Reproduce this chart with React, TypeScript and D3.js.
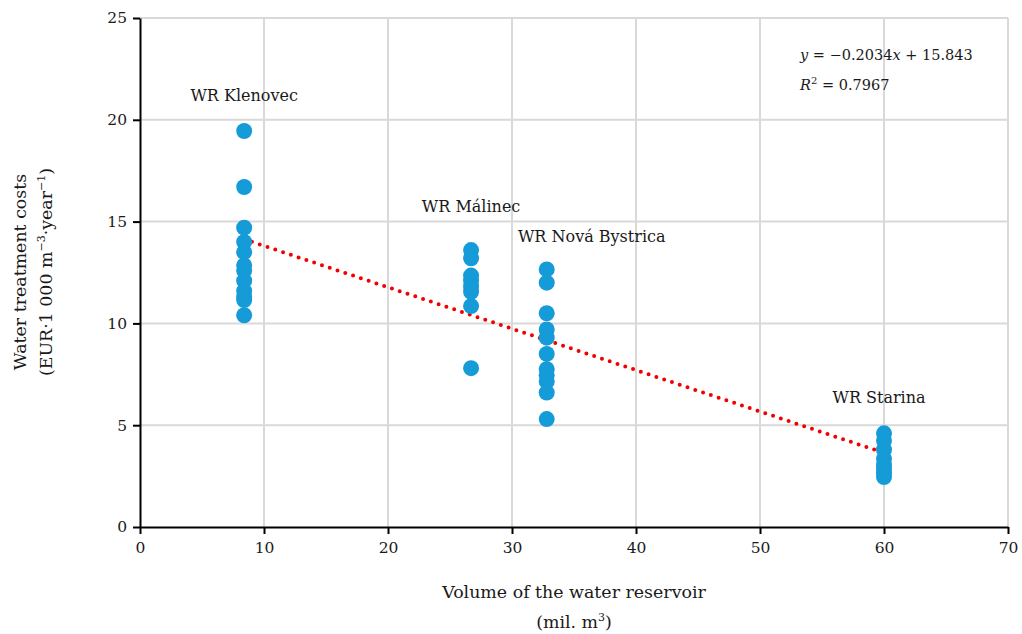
import React, { useRef, useEffect } from 'react';
import * as d3 from 'd3';

const xTicks = [0, 10, 20, 30, 40, 50, 60, 70];
const yTicks = [0, 5, 10, 15, 20, 25];

const klenovec = [19.45, 16.7, 14.7, 14.0, 13.5, 12.85, 12.6, 12.1, 11.6, 11.3, 11.15, 10.4];
const malinec = [13.6, 13.2, 12.35, 12.1, 11.8, 11.55, 10.85, 7.8];
const novaBystrica = [12.65, 12.0, 10.5, 9.7, 9.3, 8.5, 7.75, 7.45, 7.15, 6.6, 5.3];
const starina = [4.6, 4.25, 3.8, 3.35, 3.05, 2.85, 2.65, 2.45];

const reservoirs = [
  { name: 'WR Klenovec', volume: 8.4, values: klenovec, labelDx: 0, labelY: 20.9 },
  { name: 'WR Málinec', volume: 26.7, values: malinec, labelDx: 0, labelY: 15.45 },
  { name: 'WR Nová Bystrica', volume: 32.8, values: novaBystrica, labelDx: 45, labelY: 14.0 },
  { name: 'WR Starina', volume: 60, values: starina, labelDx: -5, labelY: 6.1 },
];

const slope = -0.2034;
const intercept = 15.843;
const trendRange = [8.4, 60];

const FONT = '"DejaVu Serif", serif';
const INK = '#1a1a1a';

const Chart = () => {
  const svgRef = useRef<SVGSVGElement>(null);

  useEffect(() => {
    const svg = d3.select(svgRef.current);
    svg.selectAll('*').remove();

    const x = d3.scaleLinear().domain([0, 70]).range([140, 1008]);
    const y = d3.scaleLinear().domain([0, 25]).range([527, 18]);

    // grid
    svg.append('g')
      .selectAll('line')
      .data(xTicks.slice(1))
      .enter().append('line')
      .attr('x1', d => x(d)).attr('x2', d => x(d))
      .attr('y1', y(0)).attr('y2', y(25))
      .attr('stroke', '#d9d9d9').attr('stroke-width', 2);

    svg.append('g')
      .selectAll('line')
      .data(yTicks.slice(1))
      .enter().append('line')
      .attr('x1', x(0)).attr('x2', x(70))
      .attr('y1', d => y(d)).attr('y2', d => y(d))
      .attr('stroke', '#d9d9d9').attr('stroke-width', 2);

    // axes
    const xAxis = svg.append('g')
      .attr('transform', `translate(0,${y(0)})`)
      .call(d3.axisBottom(x).tickValues(xTicks).tickSize(7).tickPadding(8).tickSizeOuter(0));
    const yAxis = svg.append('g')
      .attr('transform', `translate(${x(0)},0)`)
      .call(d3.axisLeft(y).tickValues(yTicks).tickSize(7).tickPadding(6).tickSizeOuter(0));

    [xAxis, yAxis].forEach(a => {
      a.select('.domain').attr('stroke', '#000').attr('stroke-width', 2);
      a.selectAll('.tick line').attr('stroke', '#000').attr('stroke-width', 2);
      a.selectAll('.tick text')
        .attr('font-family', FONT)
        .attr('font-size', 15.5)
        .attr('fill', INK);
    });

    // trend line
    const trend = d3.line<number>()
      .x(d => x(d))
      .y(d => y(slope * d + intercept));
    svg.append('path')
      .datum(trendRange)
      .attr('fill', 'none')
      .attr('stroke', '#f20000')
      .attr('stroke-width', 4)
      .attr('stroke-linecap', 'round')
      .attr('stroke-dasharray', '0,8.2')
      .attr('d', trend);

    // points
    reservoirs.forEach(r => {
      svg.append('g')
        .selectAll('circle')
        .data(r.values)
        .enter().append('circle')
        .attr('cx', x(r.volume))
        .attr('cy', d => y(d))
        .attr('r', 8)
        .attr('fill', '#159bd7');

      svg.append('text')
        .attr('x', x(r.volume) + r.labelDx)
        .attr('y', y(r.labelY))
        .attr('text-anchor', 'middle')
        .attr('font-family', FONT)
        .attr('font-size', 16)
        .attr('fill', INK)
        .text(r.name);
    });

    // equation
    const eq = svg.append('text')
      .attr('x', 800).attr('y', 60)
      .attr('font-family', FONT).attr('font-size', 14.5).attr('fill', INK);
    eq.append('tspan').attr('font-style', 'italic').text('y');
    eq.append('tspan').text(' = −0.2034');
    eq.append('tspan').attr('font-style', 'italic').text('x');
    eq.append('tspan').text(' + 15.843');

    const r2 = svg.append('text')
      .attr('x', 800).attr('y', 90)
      .attr('font-family', FONT).attr('font-size', 14.5).attr('fill', INK);
    r2.append('tspan').attr('font-style', 'italic').text('R');
    r2.append('tspan').attr('font-size', 10).attr('dy', -6).text('2');
    r2.append('tspan').attr('dy', 6).text(' = 0.7967');

    // x axis title
    svg.append('text')
      .attr('x', 574).attr('y', 598)
      .attr('text-anchor', 'middle')
      .attr('font-family', FONT).attr('font-size', 17.4).attr('fill', INK)
      .text('Volume of the water reservoir');
    const xt2 = svg.append('text')
      .attr('x', 574).attr('y', 628)
      .attr('text-anchor', 'middle')
      .attr('font-family', FONT).attr('font-size', 17.4).attr('fill', INK);
    xt2.append('tspan').text('(mil. m');
    xt2.append('tspan').attr('font-size', 11).attr('dy', -7).text('3');
    xt2.append('tspan').attr('dy', 7).text(')');

    // y axis title
    const yt = svg.append('g').attr('transform', 'translate(0,272) rotate(-90)');
    yt.append('text')
      .attr('x', 0).attr('y', 26)
      .attr('text-anchor', 'middle')
      .attr('font-family', FONT).attr('font-size', 17.4).attr('fill', INK)
      .text('Water treatment costs');
    const yt2 = yt.append('text')
      .attr('x', 0).attr('y', 52)
      .attr('text-anchor', 'middle')
      .attr('font-family', FONT).attr('font-size', 17.4).attr('fill', INK);
    yt2.append('tspan').text('(EUR·1 000 m');
    yt2.append('tspan').attr('font-size', 11).attr('dy', -7).text('−3');
    yt2.append('tspan').attr('dy', 7).text('·year');
    yt2.append('tspan').attr('font-size', 11).attr('dy', -7).text('−1');
    yt2.append('tspan').attr('dy', 7).text(')');
  }, []);

  return (
    <svg
      ref={svgRef}
      width={1022}
      height={634}
      style={{ position: 'absolute', left: 0, top: 0, background: '#fff' }}
    />
  );
};

export default function App() {
  return <Chart />;
}
